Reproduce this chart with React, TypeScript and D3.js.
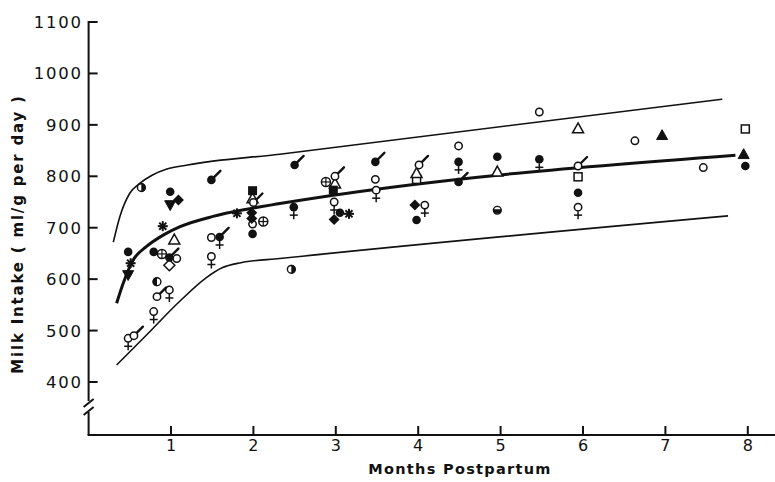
import React from 'react';
import * as d3 from 'd3';

type Pt = [number, number];

const monthTicks = [1, 2, 3, 4, 5, 6, 7, 8];
const intakeTicks = [400, 500, 600, 700, 800, 900, 1000, 1100];

const upperCurve: Pt[] = [
  [0.3, 672], [0.38, 722], [0.5, 767], [0.62, 786], [0.77, 802], [0.95, 814],
  [1.2, 822], [2.32, 843], [7.69, 950],
];
const meanCurve: Pt[] = [
  [0.34, 553], [0.42, 592], [0.54, 637], [0.7, 663], [0.91, 686], [1.11, 702],
  [1.51, 722], [1.92, 736], [2.32, 747], [7.85, 841],
];
const lowerCurve: Pt[] = [
  [0.34, 433], [0.7, 491], [1.1, 556], [1.43, 603], [1.62, 622], [1.85, 632],
  [2.32, 640], [7.76, 723],
];

const circleFilled: Pt[] = [
  [0.48, 653], [0.99, 770], [0.79, 653], [1.99, 688], [3.05, 729], [3.98, 715],
  [4.96, 838], [5.94, 768], [7.97, 820],
];
const circleOpen: Pt[] = [
  [1.07, 640], [1.49, 681], [3.48, 794], [1.99, 707], [4.49, 859], [5.47, 925],
  [6.63, 869], [7.46, 817],
];
const maleFilled: Pt[] = [
  [1.49, 793], [2.5, 822], [3.48, 828], [4.49, 789], [0.98, 642],
];
const maleOpen: Pt[] = [
  [0.55, 490], [2.0, 749], [2.99, 800], [4.01, 822], [5.94, 820], [0.83, 566],
];
const femaleOpen: Pt[] = [
  [0.48, 485], [0.79, 537], [0.98, 579], [1.49, 644], [2.98, 750], [3.49, 773],
  [4.08, 744], [5.94, 740],
];
const femaleFilled: Pt[] = [[2.49, 740], [4.49, 828], [5.47, 833]];
const bothFilled: Pt[] = [[1.59, 682]];
const diamondFilled: Pt[] = [
  [1.09, 754], [1.98, 729], [1.98, 718], [2.98, 716], [3.96, 744],
];
const diamondOpen: Pt[] = [[0.98, 627]];
const squareFilled: Pt[] = [[1.99, 772], [2.97, 773]];
const squareOpen: Pt[] = [[3.98, 794], [5.94, 799], [7.97, 892]];
const triangleOpen: Pt[] = [
  [1.04, 677], [1.99, 757], [2.99, 786], [3.98, 806], [4.96, 809], [5.94, 893],
];
const triangleFilled: Pt[] = [[6.96, 880], [7.95, 843]];
const triangleDown: Pt[] = [[0.99, 744], [0.48, 608]];
const asterisks: Pt[] = [[0.9, 703], [0.51, 631], [1.8, 728], [3.16, 727]];
const circlePlus: Pt[] = [[0.89, 649], [2.12, 712], [2.88, 789]];
const halfRight: Pt[] = [[0.64, 778], [2.46, 619]];
const halfLeft: Pt[] = [[0.83, 595]];
const halfBottom: Pt[] = [[4.96, 734]];

const W = 775;
const H = 482;
const X0 = 88.6;
const AXIS_Y = 435;
const INK = '#111';

const x = d3.scaleLinear().domain([0, 8]).range([X0, X0 + 8 * 82.4]);
const y = d3.scaleLinear().domain([400, 1100]).range([382, 22]);

const lineGen = d3
  .line<Pt>()
  .x((d) => x(d[0]))
  .y((d) => y(d[1]))
  .curve(d3.curveMonotoneX);

const R = 4;

function sym(kind: string, d: Pt, i: number) {
  const cx = x(d[0]);
  const cy = y(d[1]);
  const k = `${kind}-${i}`;
  const sw = 1.5;
  const tail = (
    <line x1={cx + 2.5} y1={cy - 2.5} x2={cx + 9} y2={cy - 9} stroke={INK} strokeWidth={2.4} strokeLinecap="round" />
  );
  const cross = (
    <g>
      <line x1={cx} y1={cy + R} x2={cx} y2={cy + R + 8} stroke={INK} strokeWidth={sw} />
      <line x1={cx - 4} y1={cy + R + 4} x2={cx + 4} y2={cy + R + 4} stroke={INK} strokeWidth={sw} />
    </g>
  );
  switch (kind) {
    case 'circleFilled':
      return <circle key={k} cx={cx} cy={cy} r={R + 0.3} fill={INK} />;
    case 'circleOpen':
      return <circle key={k} cx={cx} cy={cy} r={R - 0.3} fill="#fff" stroke={INK} strokeWidth={sw} />;
    case 'maleFilled':
      return (
        <g key={k}>
          {tail}
          <circle cx={cx} cy={cy} r={R + 0.3} fill={INK} />
        </g>
      );
    case 'maleOpen':
      return (
        <g key={k}>
          {tail}
          <circle cx={cx} cy={cy} r={R - 0.3} fill="#fff" stroke={INK} strokeWidth={sw} />
        </g>
      );
    case 'femaleOpen':
      return (
        <g key={k}>
          {cross}
          <circle cx={cx} cy={cy} r={R - 0.3} fill="#fff" stroke={INK} strokeWidth={sw} />
        </g>
      );
    case 'femaleFilled':
      return (
        <g key={k}>
          {cross}
          <circle cx={cx} cy={cy} r={R + 0.3} fill={INK} />
        </g>
      );
    case 'bothFilled':
      return (
        <g key={k}>
          {cross}
          {tail}
          <circle cx={cx} cy={cy} r={R + 0.3} fill={INK} />
        </g>
      );
    case 'diamondFilled':
    case 'diamondOpen': {
      const s = 5.5;
      const p = `M${cx},${cy - s}L${cx + s},${cy}L${cx},${cy + s}L${cx - s},${cy}Z`;
      return kind === 'diamondFilled' ? (
        <path key={k} d={p} fill={INK} />
      ) : (
        <path key={k} d={p} fill="#fff" stroke={INK} strokeWidth={sw} />
      );
    }
    case 'squareFilled':
      return <rect key={k} x={cx - 4.5} y={cy - 4.5} width={9} height={9} fill={INK} />;
    case 'squareOpen':
      return <rect key={k} x={cx - 4} y={cy - 4} width={8} height={8} fill="#fff" stroke={INK} strokeWidth={sw} />;
    case 'triangleOpen':
    case 'triangleFilled': {
      const s = 5.5;
      const p = `M${cx},${cy - s}L${cx + s},${cy + s * 0.8}L${cx - s},${cy + s * 0.8}Z`;
      return kind === 'triangleFilled' ? (
        <path key={k} d={p} fill={INK} stroke={INK} strokeWidth={1} />
      ) : (
        <path key={k} d={p} fill="#fff" stroke={INK} strokeWidth={sw} />
      );
    }
    case 'triangleDown': {
      const s = 5.5;
      const p = `M${cx},${cy + s}L${cx + s},${cy - s * 0.8}L${cx - s},${cy - s * 0.8}Z`;
      return <path key={k} d={p} fill={INK} stroke={INK} strokeWidth={1} />;
    }
    case 'asterisk': {
      const s = 5;
      const rays = [0, 45, 90, 135].map((a) => {
        const rad = (a * Math.PI) / 180;
        return (
          <line key={a} x1={cx - s * Math.cos(rad)} y1={cy - s * Math.sin(rad)} x2={cx + s * Math.cos(rad)} y2={cy + s * Math.sin(rad)} stroke={INK} strokeWidth={2} />
        );
      });
      return <g key={k}>{rays}</g>;
    }
    case 'circlePlus':
      return (
        <g key={k}>
          <circle cx={cx} cy={cy} r={R + 0.5} fill="#fff" stroke={INK} strokeWidth={sw} />
          <line x1={cx - R - 0.5} y1={cy} x2={cx + R + 0.5} y2={cy} stroke={INK} strokeWidth={1.2} />
          <line x1={cx} y1={cy - R - 0.5} x2={cx} y2={cy + R + 0.5} stroke={INK} strokeWidth={1.2} />
        </g>
      );
    case 'halfRight':
    case 'halfLeft':
    case 'halfBottom': {
      const r = R + 0.5;
      let p = '';
      if (kind === 'halfRight') p = `M${cx},${cy - r}A${r},${r} 0 0 1 ${cx},${cy + r}Z`;
      if (kind === 'halfLeft') p = `M${cx},${cy - r}A${r},${r} 0 0 0 ${cx},${cy + r}Z`;
      if (kind === 'halfBottom') p = `M${cx - r},${cy - 1}A${r},${r} 0 0 0 ${cx + r},${cy - 1}Z`;
      return (
        <g key={k}>
          <circle cx={cx} cy={cy} r={r - 0.6} fill="#fff" stroke={INK} strokeWidth={1.4} />
          <path d={p} fill={INK} />
        </g>
      );
    }
    default:
      return null;
  }
}

const groups: [string, Pt[]][] = [
  ['circleOpen', circleOpen],
  ['circlePlus', circlePlus],
  ['diamondOpen', diamondOpen],
  ['squareOpen', squareOpen],
  ['triangleOpen', triangleOpen],
  ['femaleOpen', femaleOpen],
  ['maleOpen', maleOpen],
  ['circleFilled', circleFilled],
  ['maleFilled', maleFilled],
  ['femaleFilled', femaleFilled],
  ['bothFilled', bothFilled],
  ['diamondFilled', diamondFilled],
  ['squareFilled', squareFilled],
  ['triangleFilled', triangleFilled],
  ['triangleDown', triangleDown],
  ['asterisk', asterisks],
  ['halfRight', halfRight],
  ['halfLeft', halfLeft],
  ['halfBottom', halfBottom],
];

export default function App() {
  const font = "'DejaVu Sans', sans-serif";
  return (
    <svg
      width={W}
      height={H}
      viewBox={`0 0 ${W} ${H}`}
      style={{ position: 'absolute', left: 0, top: 0, background: '#fff' }}
    >
      <rect x={0} y={0} width={W} height={H} fill="#fff" />
      {/* y axis with break */}
      <g stroke={INK} strokeWidth={2} fill="none">
        <line x1={X0} y1={y(1100) - 1} x2={X0} y2={401} />
        <line x1={X0 - 5} y1={407} x2={X0 + 5} y2={399} />
        <line x1={X0 - 5} y1={415} x2={X0 + 5} y2={407} />
        <line x1={X0} y1={412} x2={X0} y2={AXIS_Y} />
        <line x1={X0 - 1} y1={AXIS_Y} x2={W} y2={AXIS_Y} />
        {intakeTicks.map((t) => (
          <line key={t} x1={X0} y1={y(t)} x2={X0 + 9} y2={y(t)} />
        ))}
        {monthTicks.map((t) => (
          <line key={t} x1={x(t)} y1={AXIS_Y} x2={x(t)} y2={AXIS_Y - 9} />
        ))}
      </g>
      <g fontFamily={font} fontSize={16.5} fill={INK}>
        {intakeTicks.map((t) => (
          <text key={t} x={X0 - 6} y={y(t)} dy="0.36em" textAnchor="end" letterSpacing={1.7}>
            {t}
          </text>
        ))}
        {monthTicks.map((t) => (
          <text key={t} x={x(t)} y={AXIS_Y + 16} textAnchor="middle" fontSize={16}>
            {t}
          </text>
        ))}
      </g>
      <text
        x={460}
        y={474}
        textAnchor="middle"
        fontFamily={font}
        fontWeight="bold"
        fontSize={14.5}
        letterSpacing={1.3}
        fill={INK}
      >
        Months Postpartum
      </text>
      <text
        transform="translate(23,234) rotate(-90)"
        textAnchor="middle"
        fontFamily={font}
        fontWeight="bold"
        fontSize={15}
        letterSpacing={1.8}
        fill={INK}
      >
        Milk Intake ( ml/g per day )
      </text>
      {/* curves */}
      <path d={lineGen(upperCurve) || ''} fill="none" stroke={INK} strokeWidth={1.6} />
      <path d={lineGen(lowerCurve) || ''} fill="none" stroke={INK} strokeWidth={1.6} />
      <path d={lineGen(meanCurve) || ''} fill="none" stroke={INK} strokeWidth={3} />
      {/* points */}
      <g>{groups.map(([kind, pts]) => pts.map((d, i) => sym(kind, d, i)))}</g>
    </svg>
  );
}
